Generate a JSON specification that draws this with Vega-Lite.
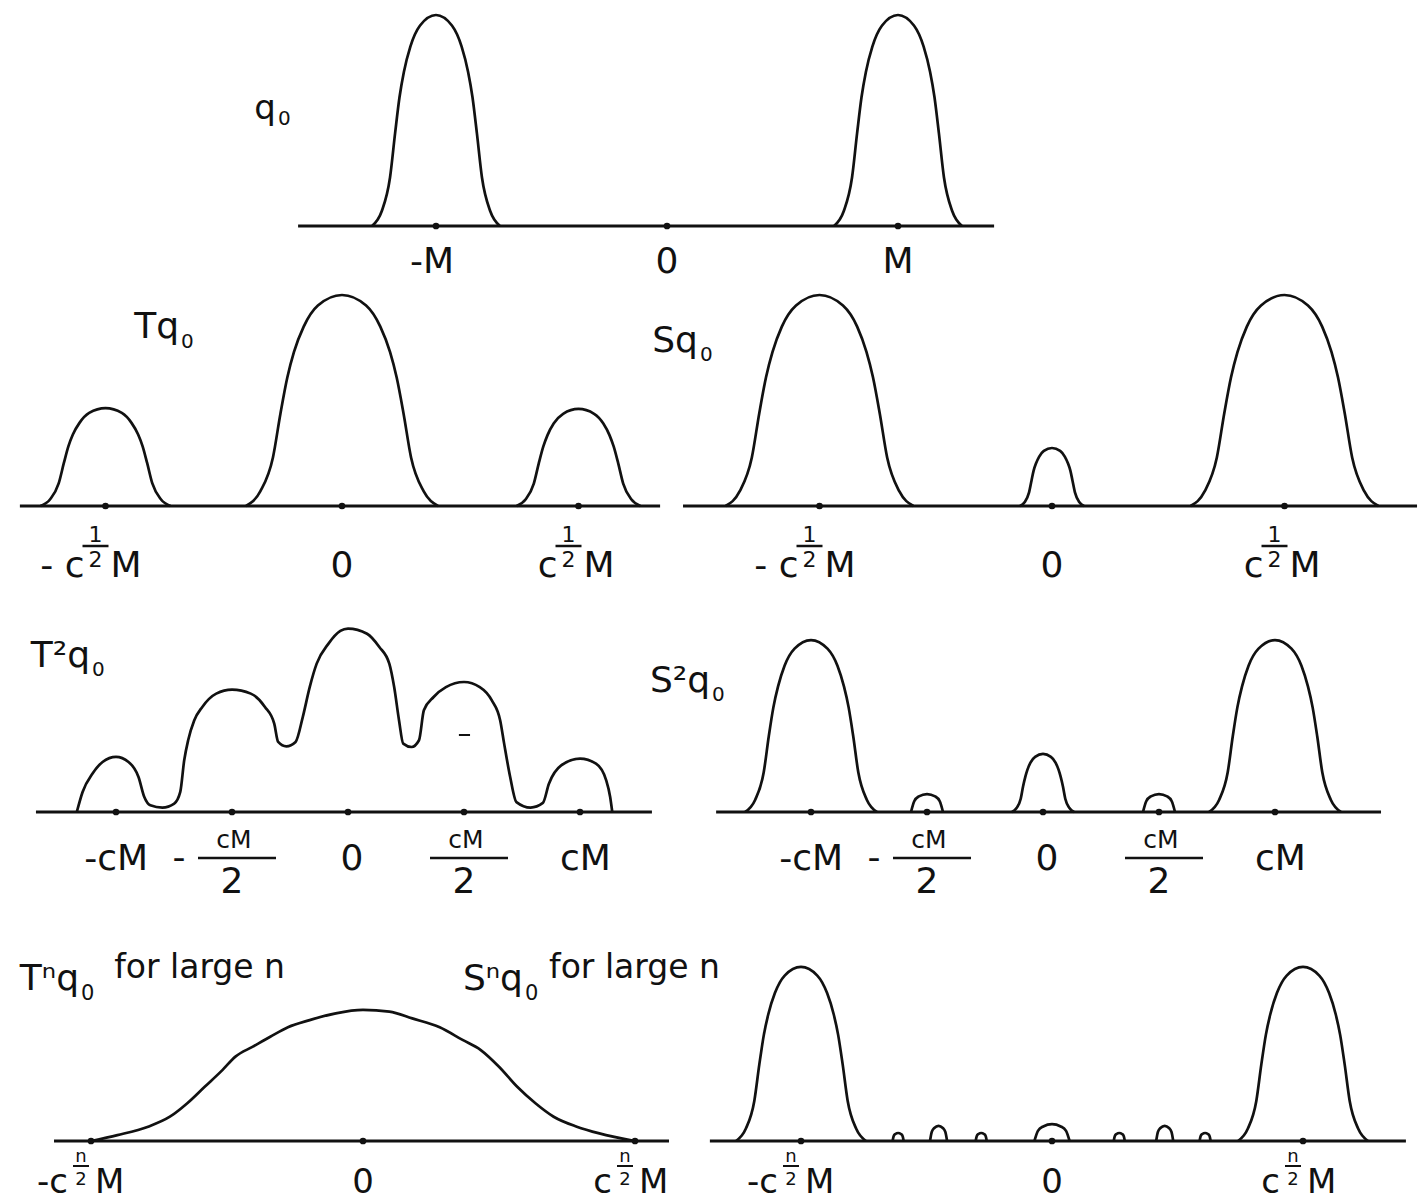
{
"$schema": "https://vega.github.io/schema/vega-lite/v6.json",
"padding": 0,
"background": "white",
"columns": 2,
"spacing": 0,
"bounds": "flush",
"config": {
 "view": {"stroke": null},
 "axis": {"disable": true},
 "concat": {"spacing": 0},
 "line": {"color": "#111", "strokeWidth": 2.7, "interpolate": "monotone"},
 "rule": {"color": "#111", "strokeWidth": 3},
 "point": {"color": "#111", "filled": true, "size": 45, "opacity": 1},
 "text": {"color": "#111", "font": "DejaVu Sans", "fontSize": 36, "baseline": "alphabetic"}
},
"datasets": {
 "base": [
  {"p":"q","x":-1.597,"x2":1.416},
  {"p":"T1","x":-1.362,"x2":1.345},
  {"p":"S1","x":-1.587,"x2":1.57},
  {"p":"T2","x":-1.345,"x2":1.31},
  {"p":"S2","x":-1.409,"x2":1.457},
  {"p":"Tn","x":-1.136,"x2":1.125},
  {"p":"Sn","x":-1.363,"x2":1.41}
 ],
 "ticks": [
  {"p":"q","x":-1},{"p":"q","x":0},{"p":"q","x":1},
  {"p":"T1","x":-1},{"p":"T1","x":0},{"p":"T1","x":1},
  {"p":"S1","x":-1},{"p":"S1","x":0},{"p":"S1","x":1},
  {"p":"T2","x":-1},{"p":"T2","x":-0.5},{"p":"T2","x":0},{"p":"T2","x":0.5},{"p":"T2","x":1},
  {"p":"S2","x":-1},{"p":"S2","x":-0.5},{"p":"S2","x":0},{"p":"S2","x":0.5},{"p":"S2","x":1},
  {"p":"Tn","x":-1},{"p":"Tn","x":0},{"p":"Tn","x":1},
  {"p":"Sn","x":-1},{"p":"Sn","x":0},{"p":"Sn","x":1}
 ],
 "labels": [
  {"p":"q","x":-1,"r":"negR","t":"-M"},{"p":"q","x":0,"r":"plain","t":"0"},{"p":"q","x":1,"r":"plain","t":"M"},
  {"p":"T1","x":-1,"r":"pre","t":"-  c"},{"p":"T1","x":-1,"r":"num","t":"1"},{"p":"T1","x":-1,"r":"den","t":"2"},{"p":"T1","x":-1,"r":"post","t":"M"},{"p":"T1","x":-1,"r":"bar","t":""},
  {"p":"T1","x":0,"r":"plain","t":"0"},
  {"p":"T1","x":1,"r":"pre","t":"c"},{"p":"T1","x":1,"r":"num","t":"1"},{"p":"T1","x":1,"r":"den","t":"2"},{"p":"T1","x":1,"r":"post","t":"M"},{"p":"T1","x":1,"r":"bar","t":""},
  {"p":"S1","x":-1,"r":"pre","t":"- c"},{"p":"S1","x":-1,"r":"num","t":"1"},{"p":"S1","x":-1,"r":"den","t":"2"},{"p":"S1","x":-1,"r":"post","t":"M"},{"p":"S1","x":-1,"r":"bar","t":""},
  {"p":"S1","x":0,"r":"plain","t":"0"},
  {"p":"S1","x":1,"r":"pre","t":"c"},{"p":"S1","x":1,"r":"num","t":"1"},{"p":"S1","x":1,"r":"den","t":"2"},{"p":"S1","x":1,"r":"post","t":"M"},{"p":"S1","x":1,"r":"bar","t":""},
  {"p":"T2","x":-1,"r":"negR","t":"-cM"},{"p":"T2","x":-0.5,"r":"fminus","t":"-"},{"p":"T2","x":-0.5,"r":"fnum","t":"cM"},{"p":"T2","x":-0.5,"r":"fden","t":"2"},{"p":"T2","x":-0.5,"r":"fbar","t":""},
  {"p":"T2","x":0,"r":"plain","t":"0"},
  {"p":"T2","x":0.5,"r":"fnum","t":"cM"},{"p":"T2","x":0.5,"r":"fden","t":"2"},{"p":"T2","x":0.5,"r":"fbar","t":""},{"p":"T2","x":1,"r":"posL","t":"cM"},
  {"p":"S2","x":-1,"r":"negR","t":"-cM"},{"p":"S2","x":-0.5,"r":"fminus","t":"-"},{"p":"S2","x":-0.5,"r":"fnum","t":"cM"},{"p":"S2","x":-0.5,"r":"fden","t":"2"},{"p":"S2","x":-0.5,"r":"fbar","t":""},
  {"p":"S2","x":0,"r":"plain","t":"0"},
  {"p":"S2","x":0.5,"r":"fnum","t":"cM"},{"p":"S2","x":0.5,"r":"fden","t":"2"},{"p":"S2","x":0.5,"r":"fbar","t":""},{"p":"S2","x":1,"r":"posL","t":"cM"},
  {"p":"Tn","x":-1,"r":"pre","t":"-c"},{"p":"Tn","x":-1,"r":"num","t":"n"},{"p":"Tn","x":-1,"r":"den","t":"2"},{"p":"Tn","x":-1,"r":"post","t":"M"},{"p":"Tn","x":-1,"r":"bar","t":""},
  {"p":"Tn","x":0,"r":"plain","t":"0"},
  {"p":"Tn","x":1,"r":"pre","t":"c"},{"p":"Tn","x":1,"r":"num","t":"n"},{"p":"Tn","x":1,"r":"den","t":"2"},{"p":"Tn","x":1,"r":"post","t":"M"},{"p":"Tn","x":1,"r":"bar","t":""},
  {"p":"Sn","x":-1,"r":"pre","t":"-c"},{"p":"Sn","x":-1,"r":"num","t":"n"},{"p":"Sn","x":-1,"r":"den","t":"2"},{"p":"Sn","x":-1,"r":"post","t":"M"},{"p":"Sn","x":-1,"r":"bar","t":""},
  {"p":"Sn","x":0,"r":"plain","t":"0"},
  {"p":"Sn","x":1,"r":"pre","t":"c"},{"p":"Sn","x":1,"r":"num","t":"n"},{"p":"Sn","x":1,"r":"den","t":"2"},{"p":"Sn","x":1,"r":"post","t":"M"},{"p":"Sn","x":1,"r":"bar","t":""}
 ],
 "curves": [
  {"p":"q","c":1,"x":-1.277,"y":0},{"p":"q","c":1,"x":-1.235,"y":0.07},{"p":"q","c":1,"x":-1.199,"y":0.23},{"p":"q","c":1,"x":-1.177,"y":0.44},{"p":"q","c":1,"x":-1.158,"y":0.61},{"p":"q","c":1,"x":-1.139,"y":0.73},{"p":"q","c":1,"x":-1.111,"y":0.85},{"p":"q","c":1,"x":-1.069,"y":0.95},{"p":"q","c":1,"x":-1,"y":1},{"p":"q","c":1,"x":-0.931,"y":0.95},{"p":"q","c":1,"x":-0.889,"y":0.85},{"p":"q","c":1,"x":-0.861,"y":0.73},{"p":"q","c":1,"x":-0.842,"y":0.61},{"p":"q","c":1,"x":-0.823,"y":0.44},{"p":"q","c":1,"x":-0.801,"y":0.23},{"p":"q","c":1,"x":-0.765,"y":0.07},{"p":"q","c":1,"x":-0.723,"y":0},
  {"p":"q","c":2,"x":0.723,"y":0},{"p":"q","c":2,"x":0.765,"y":0.07},{"p":"q","c":2,"x":0.801,"y":0.23},{"p":"q","c":2,"x":0.823,"y":0.44},{"p":"q","c":2,"x":0.842,"y":0.61},{"p":"q","c":2,"x":0.861,"y":0.73},{"p":"q","c":2,"x":0.889,"y":0.85},{"p":"q","c":2,"x":0.931,"y":0.95},{"p":"q","c":2,"x":1,"y":1},{"p":"q","c":2,"x":1.069,"y":0.95},{"p":"q","c":2,"x":1.111,"y":0.85},{"p":"q","c":2,"x":1.139,"y":0.73},{"p":"q","c":2,"x":1.158,"y":0.61},{"p":"q","c":2,"x":1.177,"y":0.44},{"p":"q","c":2,"x":1.199,"y":0.23},{"p":"q","c":2,"x":1.235,"y":0.07},{"p":"q","c":2,"x":1.277,"y":0},

  {"p":"T1","c":1,"x":-1.275,"y":0},{"p":"T1","c":1,"x":-1.234,"y":0.032},{"p":"T1","c":1,"x":-1.198,"y":0.107},{"p":"T1","c":1,"x":-1.176,"y":0.204},{"p":"T1","c":1,"x":-1.157,"y":0.283},{"p":"T1","c":1,"x":-1.138,"y":0.339},{"p":"T1","c":1,"x":-1.11,"y":0.394},{"p":"T1","c":1,"x":-1.069,"y":0.441},{"p":"T1","c":1,"x":-1,"y":0.464},{"p":"T1","c":1,"x":-0.931,"y":0.441},{"p":"T1","c":1,"x":-0.89,"y":0.394},{"p":"T1","c":1,"x":-0.862,"y":0.339},{"p":"T1","c":1,"x":-0.843,"y":0.283},{"p":"T1","c":1,"x":-0.824,"y":0.204},{"p":"T1","c":1,"x":-0.802,"y":0.107},{"p":"T1","c":1,"x":-0.766,"y":0.032},{"p":"T1","c":1,"x":-0.725,"y":0},
  {"p":"T1","c":2,"x":-0.406,"y":0},{"p":"T1","c":2,"x":-0.345,"y":0.07},{"p":"T1","c":2,"x":-0.292,"y":0.23},{"p":"T1","c":2,"x":-0.26,"y":0.44},{"p":"T1","c":2,"x":-0.231,"y":0.61},{"p":"T1","c":2,"x":-0.203,"y":0.73},{"p":"T1","c":2,"x":-0.162,"y":0.85},{"p":"T1","c":2,"x":-0.102,"y":0.95},{"p":"T1","c":2,"x":0,"y":1},{"p":"T1","c":2,"x":0.102,"y":0.95},{"p":"T1","c":2,"x":0.162,"y":0.85},{"p":"T1","c":2,"x":0.203,"y":0.73},{"p":"T1","c":2,"x":0.231,"y":0.61},{"p":"T1","c":2,"x":0.26,"y":0.44},{"p":"T1","c":2,"x":0.292,"y":0.23},{"p":"T1","c":2,"x":0.345,"y":0.07},{"p":"T1","c":2,"x":0.406,"y":0},
  {"p":"T1","c":3,"x":0.738,"y":0},{"p":"T1","c":3,"x":0.777,"y":0.032},{"p":"T1","c":3,"x":0.811,"y":0.106},{"p":"T1","c":3,"x":0.832,"y":0.202},{"p":"T1","c":3,"x":0.851,"y":0.281},{"p":"T1","c":3,"x":0.869,"y":0.336},{"p":"T1","c":3,"x":0.895,"y":0.391},{"p":"T1","c":3,"x":0.935,"y":0.437},{"p":"T1","c":3,"x":1,"y":0.46},{"p":"T1","c":3,"x":1.066,"y":0.437},{"p":"T1","c":3,"x":1.105,"y":0.391},{"p":"T1","c":3,"x":1.131,"y":0.336},{"p":"T1","c":3,"x":1.149,"y":0.281},{"p":"T1","c":3,"x":1.168,"y":0.202},{"p":"T1","c":3,"x":1.189,"y":0.106},{"p":"T1","c":3,"x":1.223,"y":0.032},{"p":"T1","c":3,"x":1.262,"y":0},

  {"p":"S1","c":1,"x":-1.404,"y":0},{"p":"S1","c":1,"x":-1.343,"y":0.07},{"p":"S1","c":1,"x":-1.291,"y":0.23},{"p":"S1","c":1,"x":-1.259,"y":0.44},{"p":"S1","c":1,"x":-1.23,"y":0.61},{"p":"S1","c":1,"x":-1.202,"y":0.73},{"p":"S1","c":1,"x":-1.162,"y":0.85},{"p":"S1","c":1,"x":-1.101,"y":0.95},{"p":"S1","c":1,"x":-1,"y":1},{"p":"S1","c":1,"x":-0.899,"y":0.95},{"p":"S1","c":1,"x":-0.838,"y":0.85},{"p":"S1","c":1,"x":-0.798,"y":0.73},{"p":"S1","c":1,"x":-0.77,"y":0.61},{"p":"S1","c":1,"x":-0.741,"y":0.44},{"p":"S1","c":1,"x":-0.709,"y":0.23},{"p":"S1","c":1,"x":-0.657,"y":0.07},{"p":"S1","c":1,"x":-0.596,"y":0},
  {"p":"S1","c":2,"x":-0.138,"y":0},{"p":"S1","c":2,"x":-0.117,"y":0.019},{"p":"S1","c":2,"x":-0.099,"y":0.063},{"p":"S1","c":2,"x":-0.088,"y":0.121},{"p":"S1","c":2,"x":-0.079,"y":0.168},{"p":"S1","c":2,"x":-0.069,"y":0.201},{"p":"S1","c":2,"x":-0.055,"y":0.234},{"p":"S1","c":2,"x":-0.035,"y":0.261},{"p":"S1","c":2,"x":0,"y":0.275},{"p":"S1","c":2,"x":0.035,"y":0.261},{"p":"S1","c":2,"x":0.055,"y":0.234},{"p":"S1","c":2,"x":0.069,"y":0.201},{"p":"S1","c":2,"x":0.079,"y":0.168},{"p":"S1","c":2,"x":0.088,"y":0.121},{"p":"S1","c":2,"x":0.099,"y":0.063},{"p":"S1","c":2,"x":0.117,"y":0.019},{"p":"S1","c":2,"x":0.138,"y":0},
  {"p":"S1","c":3,"x":0.596,"y":0},{"p":"S1","c":3,"x":0.657,"y":0.07},{"p":"S1","c":3,"x":0.709,"y":0.23},{"p":"S1","c":3,"x":0.741,"y":0.44},{"p":"S1","c":3,"x":0.77,"y":0.61},{"p":"S1","c":3,"x":0.798,"y":0.73},{"p":"S1","c":3,"x":0.838,"y":0.85},{"p":"S1","c":3,"x":0.899,"y":0.95},{"p":"S1","c":3,"x":1,"y":1},{"p":"S1","c":3,"x":1.101,"y":0.95},{"p":"S1","c":3,"x":1.162,"y":0.85},{"p":"S1","c":3,"x":1.202,"y":0.73},{"p":"S1","c":3,"x":1.23,"y":0.61},{"p":"S1","c":3,"x":1.259,"y":0.44},{"p":"S1","c":3,"x":1.291,"y":0.23},{"p":"S1","c":3,"x":1.343,"y":0.07},{"p":"S1","c":3,"x":1.404,"y":0},

  {"p":"T2","c":1,"x":-1.169,"y":0},{"p":"T2","c":1,"x":-1.144,"y":0.095},{"p":"T2","c":1,"x":-1.101,"y":0.182},{"p":"T2","c":1,"x":-1.058,"y":0.237},{"p":"T2","c":1,"x":-1,"y":0.261},{"p":"T2","c":1,"x":-0.946,"y":0.237},{"p":"T2","c":1,"x":-0.903,"y":0.166},{"p":"T2","c":1,"x":-0.878,"y":0.071},{"p":"T2","c":1,"x":-0.852,"y":0.032},{"p":"T2","c":1,"x":-0.8,"y":0.021},{"p":"T2","c":1,"x":-0.749,"y":0.04},{"p":"T2","c":1,"x":-0.723,"y":0.095},{"p":"T2","c":1,"x":-0.706,"y":0.245},{"p":"T2","c":1,"x":-0.689,"y":0.34},{"p":"T2","c":1,"x":-0.663,"y":0.434},{"p":"T2","c":1,"x":-0.628,"y":0.498},{"p":"T2","c":1,"x":-0.568,"y":0.561},{"p":"T2","c":1,"x":-0.5,"y":0.58},{"p":"T2","c":1,"x":-0.419,"y":0.561},{"p":"T2","c":1,"x":-0.358,"y":0.498},{"p":"T2","c":1,"x":-0.318,"y":0.419},{"p":"T2","c":1,"x":-0.301,"y":0.332},{"p":"T2","c":1,"x":-0.266,"y":0.311},{"p":"T2","c":1,"x":-0.226,"y":0.332},{"p":"T2","c":1,"x":-0.195,"y":0.45},{"p":"T2","c":1,"x":-0.165,"y":0.592},{"p":"T2","c":1,"x":-0.135,"y":0.703},{"p":"T2","c":1,"x":-0.084,"y":0.798},{"p":"T2","c":1,"x":-0.033,"y":0.858},{"p":"T2","c":1,"x":0,"y":0.869},{"p":"T2","c":1,"x":0.082,"y":0.845},{"p":"T2","c":1,"x":0.135,"y":0.782},{"p":"T2","c":1,"x":0.178,"y":0.703},{"p":"T2","c":1,"x":0.199,"y":0.592},{"p":"T2","c":1,"x":0.22,"y":0.434},{"p":"T2","c":1,"x":0.238,"y":0.324},{"p":"T2","c":1,"x":0.274,"y":0.308},{"p":"T2","c":1,"x":0.306,"y":0.34},{"p":"T2","c":1,"x":0.327,"y":0.482},{"p":"T2","c":1,"x":0.369,"y":0.545},{"p":"T2","c":1,"x":0.422,"y":0.592},{"p":"T2","c":1,"x":0.5,"y":0.616},{"p":"T2","c":1,"x":0.568,"y":0.592},{"p":"T2","c":1,"x":0.62,"y":0.529},{"p":"T2","c":1,"x":0.656,"y":0.434},{"p":"T2","c":1,"x":0.673,"y":0.324},{"p":"T2","c":1,"x":0.699,"y":0.166},{"p":"T2","c":1,"x":0.726,"y":0.047},{"p":"T2","c":1,"x":0.787,"y":0.021},{"p":"T2","c":1,"x":0.84,"y":0.043},{"p":"T2","c":1,"x":0.866,"y":0.134},{"p":"T2","c":1,"x":0.919,"y":0.221},{"p":"T2","c":1,"x":1,"y":0.253},{"p":"T2","c":1,"x":1.069,"y":0.229},{"p":"T2","c":1,"x":1.113,"y":0.15},{"p":"T2","c":1,"x":1.13,"y":0.071},{"p":"T2","c":1,"x":1.139,"y":0},

  {"p":"S2","c":1,"x":-1.284,"y":0},{"p":"S2","c":1,"x":-1.241,"y":0.057},{"p":"S2","c":1,"x":-1.204,"y":0.187},{"p":"S2","c":1,"x":-1.182,"y":0.359},{"p":"S2","c":1,"x":-1.162,"y":0.497},{"p":"S2","c":1,"x":-1.142,"y":0.595},{"p":"S2","c":1,"x":-1.114,"y":0.693},{"p":"S2","c":1,"x":-1.071,"y":0.774},{"p":"S2","c":1,"x":-1,"y":0.815},{"p":"S2","c":1,"x":-0.929,"y":0.774},{"p":"S2","c":1,"x":-0.886,"y":0.693},{"p":"S2","c":1,"x":-0.858,"y":0.595},{"p":"S2","c":1,"x":-0.838,"y":0.497},{"p":"S2","c":1,"x":-0.818,"y":0.359},{"p":"S2","c":1,"x":-0.796,"y":0.187},{"p":"S2","c":1,"x":-0.759,"y":0.057},{"p":"S2","c":1,"x":-0.716,"y":0},
  {"p":"S2","c":2,"x":-0.569,"y":0},{"p":"S2","c":2,"x":-0.555,"y":0.051},{"p":"S2","c":2,"x":-0.535,"y":0.074},{"p":"S2","c":2,"x":-0.5,"y":0.085},{"p":"S2","c":2,"x":-0.465,"y":0.074},{"p":"S2","c":2,"x":-0.445,"y":0.051},{"p":"S2","c":2,"x":-0.431,"y":0},
  {"p":"S2","c":3,"x":-0.134,"y":0},{"p":"S2","c":3,"x":-0.114,"y":0.019},{"p":"S2","c":3,"x":-0.096,"y":0.063},{"p":"S2","c":3,"x":-0.086,"y":0.121},{"p":"S2","c":3,"x":-0.076,"y":0.168},{"p":"S2","c":3,"x":-0.067,"y":0.201},{"p":"S2","c":3,"x":-0.054,"y":0.234},{"p":"S2","c":3,"x":-0.034,"y":0.261},{"p":"S2","c":3,"x":0,"y":0.275},{"p":"S2","c":3,"x":0.034,"y":0.261},{"p":"S2","c":3,"x":0.054,"y":0.234},{"p":"S2","c":3,"x":0.067,"y":0.201},{"p":"S2","c":3,"x":0.076,"y":0.168},{"p":"S2","c":3,"x":0.086,"y":0.121},{"p":"S2","c":3,"x":0.096,"y":0.063},{"p":"S2","c":3,"x":0.114,"y":0.019},{"p":"S2","c":3,"x":0.134,"y":0},
  {"p":"S2","c":4,"x":0.431,"y":0},{"p":"S2","c":4,"x":0.445,"y":0.051},{"p":"S2","c":4,"x":0.465,"y":0.074},{"p":"S2","c":4,"x":0.5,"y":0.085},{"p":"S2","c":4,"x":0.535,"y":0.074},{"p":"S2","c":4,"x":0.555,"y":0.051},{"p":"S2","c":4,"x":0.569,"y":0},
  {"p":"S2","c":5,"x":0.716,"y":0},{"p":"S2","c":5,"x":0.759,"y":0.057},{"p":"S2","c":5,"x":0.796,"y":0.187},{"p":"S2","c":5,"x":0.818,"y":0.359},{"p":"S2","c":5,"x":0.838,"y":0.497},{"p":"S2","c":5,"x":0.858,"y":0.595},{"p":"S2","c":5,"x":0.886,"y":0.693},{"p":"S2","c":5,"x":0.929,"y":0.774},{"p":"S2","c":5,"x":1,"y":0.815},{"p":"S2","c":5,"x":1.071,"y":0.774},{"p":"S2","c":5,"x":1.114,"y":0.693},{"p":"S2","c":5,"x":1.142,"y":0.595},{"p":"S2","c":5,"x":1.162,"y":0.497},{"p":"S2","c":5,"x":1.182,"y":0.359},{"p":"S2","c":5,"x":1.204,"y":0.187},{"p":"S2","c":5,"x":1.241,"y":0.057},{"p":"S2","c":5,"x":1.284,"y":0},

  {"p":"Tn","c":1,"x":-1,"y":0},{"p":"Tn","c":1,"x":-0.903,"y":0.028},{"p":"Tn","c":1,"x":-0.79,"y":0.068},{"p":"Tn","c":1,"x":-0.71,"y":0.115},{"p":"Tn","c":1,"x":-0.646,"y":0.179},{"p":"Tn","c":1,"x":-0.582,"y":0.257},{"p":"Tn","c":1,"x":-0.517,"y":0.336},{"p":"Tn","c":1,"x":-0.469,"y":0.4},{"p":"Tn","c":1,"x":-0.405,"y":0.447},{"p":"Tn","c":1,"x":-0.341,"y":0.494},{"p":"Tn","c":1,"x":-0.276,"y":0.539},{"p":"Tn","c":1,"x":-0.196,"y":0.573},{"p":"Tn","c":1,"x":-0.1,"y":0.605},{"p":"Tn","c":1,"x":0,"y":0.621},{"p":"Tn","c":1,"x":0.097,"y":0.613},{"p":"Tn","c":1,"x":0.181,"y":0.581},{"p":"Tn","c":1,"x":0.282,"y":0.539},{"p":"Tn","c":1,"x":0.366,"y":0.479},{"p":"Tn","c":1,"x":0.433,"y":0.431},{"p":"Tn","c":1,"x":0.5,"y":0.352},{"p":"Tn","c":1,"x":0.567,"y":0.257},{"p":"Tn","c":1,"x":0.634,"y":0.179},{"p":"Tn","c":1,"x":0.701,"y":0.115},{"p":"Tn","c":1,"x":0.786,"y":0.068},{"p":"Tn","c":1,"x":0.869,"y":0.036},{"p":"Tn","c":1,"x":1,"y":0},

  {"p":"Sn","c":1,"x":-1.259,"y":0},{"p":"Sn","c":1,"x":-1.22,"y":0.058},{"p":"Sn","c":1,"x":-1.186,"y":0.19},{"p":"Sn","c":1,"x":-1.166,"y":0.363},{"p":"Sn","c":1,"x":-1.148,"y":0.503},{"p":"Sn","c":1,"x":-1.13,"y":0.602},{"p":"Sn","c":1,"x":-1.104,"y":0.701},{"p":"Sn","c":1,"x":-1.065,"y":0.784},{"p":"Sn","c":1,"x":-1,"y":0.825},{"p":"Sn","c":1,"x":-0.935,"y":0.784},{"p":"Sn","c":1,"x":-0.896,"y":0.701},{"p":"Sn","c":1,"x":-0.87,"y":0.602},{"p":"Sn","c":1,"x":-0.852,"y":0.503},{"p":"Sn","c":1,"x":-0.834,"y":0.363},{"p":"Sn","c":1,"x":-0.814,"y":0.19},{"p":"Sn","c":1,"x":-0.78,"y":0.058},{"p":"Sn","c":1,"x":-0.741,"y":0},
  {"p":"Sn","c":2,"x":-0.635,"y":0},{"p":"Sn","c":2,"x":-0.631,"y":0.023},{"p":"Sn","c":2,"x":-0.624,"y":0.033},{"p":"Sn","c":2,"x":-0.613,"y":0.038},{"p":"Sn","c":2,"x":-0.602,"y":0.033},{"p":"Sn","c":2,"x":-0.595,"y":0.023},{"p":"Sn","c":2,"x":-0.591,"y":0},
  {"p":"Sn","c":3,"x":-0.486,"y":0},{"p":"Sn","c":3,"x":-0.479,"y":0.043},{"p":"Sn","c":3,"x":-0.469,"y":0.062},{"p":"Sn","c":3,"x":-0.452,"y":0.072},{"p":"Sn","c":3,"x":-0.435,"y":0.062},{"p":"Sn","c":3,"x":-0.425,"y":0.043},{"p":"Sn","c":3,"x":-0.418,"y":0},
  {"p":"Sn","c":4,"x":-0.304,"y":0},{"p":"Sn","c":4,"x":-0.3,"y":0.023},{"p":"Sn","c":4,"x":-0.293,"y":0.033},{"p":"Sn","c":4,"x":-0.282,"y":0.038},{"p":"Sn","c":4,"x":-0.271,"y":0.033},{"p":"Sn","c":4,"x":-0.264,"y":0.023},{"p":"Sn","c":4,"x":-0.26,"y":0},
  {"p":"Sn","c":5,"x":-0.07,"y":0},{"p":"Sn","c":5,"x":-0.056,"y":0.048},{"p":"Sn","c":5,"x":-0.035,"y":0.069},{"p":"Sn","c":5,"x":0,"y":0.08},{"p":"Sn","c":5,"x":0.035,"y":0.069},{"p":"Sn","c":5,"x":0.056,"y":0.048},{"p":"Sn","c":5,"x":0.07,"y":0},
  {"p":"Sn","c":6,"x":0.246,"y":0},{"p":"Sn","c":6,"x":0.25,"y":0.023},{"p":"Sn","c":6,"x":0.257,"y":0.033},{"p":"Sn","c":6,"x":0.268,"y":0.038},{"p":"Sn","c":6,"x":0.279,"y":0.033},{"p":"Sn","c":6,"x":0.286,"y":0.023},{"p":"Sn","c":6,"x":0.29,"y":0},
  {"p":"Sn","c":7,"x":0.415,"y":0},{"p":"Sn","c":7,"x":0.422,"y":0.043},{"p":"Sn","c":7,"x":0.432,"y":0.062},{"p":"Sn","c":7,"x":0.449,"y":0.072},{"p":"Sn","c":7,"x":0.466,"y":0.062},{"p":"Sn","c":7,"x":0.476,"y":0.043},{"p":"Sn","c":7,"x":0.483,"y":0},
  {"p":"Sn","c":8,"x":0.588,"y":0},{"p":"Sn","c":8,"x":0.592,"y":0.023},{"p":"Sn","c":8,"x":0.599,"y":0.033},{"p":"Sn","c":8,"x":0.61,"y":0.038},{"p":"Sn","c":8,"x":0.621,"y":0.033},{"p":"Sn","c":8,"x":0.628,"y":0.023},{"p":"Sn","c":8,"x":0.632,"y":0},
  {"p":"Sn","c":9,"x":0.741,"y":0},{"p":"Sn","c":9,"x":0.78,"y":0.058},{"p":"Sn","c":9,"x":0.814,"y":0.19},{"p":"Sn","c":9,"x":0.834,"y":0.363},{"p":"Sn","c":9,"x":0.852,"y":0.503},{"p":"Sn","c":9,"x":0.87,"y":0.602},{"p":"Sn","c":9,"x":0.896,"y":0.701},{"p":"Sn","c":9,"x":0.935,"y":0.784},{"p":"Sn","c":9,"x":1,"y":0.825},{"p":"Sn","c":9,"x":1.065,"y":0.784},{"p":"Sn","c":9,"x":1.104,"y":0.701},{"p":"Sn","c":9,"x":1.13,"y":0.602},{"p":"Sn","c":9,"x":1.148,"y":0.503},{"p":"Sn","c":9,"x":1.166,"y":0.363},{"p":"Sn","c":9,"x":1.186,"y":0.19},{"p":"Sn","c":9,"x":1.22,"y":0.058},{"p":"Sn","c":9,"x":1.259,"y":0}
 ]
},
"concat": [
 {
  "width": 670, "height": 285,
  "layer": [
   {"data":{"name":"base"},"transform":[{"filter":"datum.p=='q'"}],"mark":"rule","encoding":{"x":{"field":"x","type":"quantitative","scale":{"domain":[-2.8874,0.013],"nice":false}},"x2":{"field":"x2"},"y":{"datum":0,"type":"quantitative","scale":{"domain":[-0.2796,1.0711],"nice":false}}}},
   {"data":{"name":"curves"},"transform":[{"filter":"datum.p=='q'"}],"mark":"line","encoding":{"x":{"field":"x","type":"quantitative","scale":{"domain":[-2.8874,0.013],"nice":false}},"y":{"field":"y","type":"quantitative","scale":{"domain":[-0.2796,1.0711],"nice":false}},"detail":{"field":"c","type":"nominal"}}},
   {"data":{"name":"ticks"},"transform":[{"filter":"datum.p=='q'"}],"mark":"point","encoding":{"x":{"field":"x","type":"quantitative","scale":{"domain":[-2.8874,0.013],"nice":false}},"y":{"datum":0,"type":"quantitative","scale":{"domain":[-0.2796,1.0711],"nice":false}}}},
   {"data":{"name":"labels"},"transform":[{"filter":"datum.p=='q' && datum.r=='negR'"}],"mark":{"type":"text","align":"right","dx":18,"dy":47},"encoding":{"x":{"field":"x","type":"quantitative","scale":{"domain":[-2.8874,0.013],"nice":false}},"y":{"datum":0,"type":"quantitative","scale":{"domain":[-0.2796,1.0711],"nice":false}},"text":{"field":"t"}}},
   {"data":{"name":"labels"},"transform":[{"filter":"datum.p=='q' && datum.r=='plain'"}],"mark":{"type":"text","align":"center","dy":47},"encoding":{"x":{"field":"x","type":"quantitative","scale":{"domain":[-2.8874,0.013],"nice":false}},"y":{"datum":0,"type":"quantitative","scale":{"domain":[-0.2796,1.0711],"nice":false}},"text":{"field":"t"}}},
   {"data":{"values":[{}]},"mark":{"type":"text","align":"right","text":"q","fontSize":34},"encoding":{"x":{"datum":-1.693,"type":"quantitative","scale":{"domain":[-2.8874,0.013],"nice":false}},"y":{"datum":0.507,"type":"quantitative","scale":{"domain":[-0.2796,1.0711],"nice":false}}}},
   {"data":{"values":[{}]},"mark":{"type":"text","align":"left","text":"0","fontSize":20,"dx":2,"dy":6},"encoding":{"x":{"datum":-1.693,"type":"quantitative","scale":{"domain":[-2.8874,0.013],"nice":false}},"y":{"datum":0.507,"type":"quantitative","scale":{"domain":[-0.2796,1.0711],"nice":false}}}}
  ]
 },
 {
  "width": 757, "height": 285,
  "data": {"values": [{}]},
  "mark": {"type": "text", "text": ""}
 },
 {
  "width": 670, "height": 315,
  "layer": [
   {"data":{"name":"base"},"transform":[{"filter":"datum.p=='T1'"}],"mark":"rule","encoding":{"x":{"field":"x","type":"quantitative","scale":{"domain":[-1.4461,1.3869],"nice":false}},"x2":{"field":"x2"},"y":{"datum":0,"type":"quantitative","scale":{"domain":[-0.4455,1.0474],"nice":false}}}},
   {"data":{"name":"curves"},"transform":[{"filter":"datum.p=='T1'"}],"mark":"line","encoding":{"x":{"field":"x","type":"quantitative","scale":{"domain":[-1.4461,1.3869],"nice":false}},"y":{"field":"y","type":"quantitative","scale":{"domain":[-0.4455,1.0474],"nice":false}},"detail":{"field":"c","type":"nominal"}}},
   {"data":{"name":"ticks"},"transform":[{"filter":"datum.p=='T1'"}],"mark":"point","encoding":{"x":{"field":"x","type":"quantitative","scale":{"domain":[-1.4461,1.3869],"nice":false}},"y":{"datum":0,"type":"quantitative","scale":{"domain":[-0.4455,1.0474],"nice":false}}}},
   {"data":{"name":"labels"},"transform":[{"filter":"datum.p=='T1' && datum.r=='pre'"}],"mark":{"type":"text","align":"right","dx":-21,"dy":71},"encoding":{"x":{"field":"x","type":"quantitative","scale":{"domain":[-1.4461,1.3869],"nice":false}},"y":{"datum":0,"type":"quantitative","scale":{"domain":[-0.4455,1.0474],"nice":false}},"text":{"field":"t"}}},
   {"data":{"name":"labels"},"transform":[{"filter":"datum.p=='T1' && datum.r=='num'"}],"mark":{"type":"text","align":"center","dx":-10,"dy":36,"fontSize":22},"encoding":{"x":{"field":"x","type":"quantitative","scale":{"domain":[-1.4461,1.3869],"nice":false}},"y":{"datum":0,"type":"quantitative","scale":{"domain":[-0.4455,1.0474],"nice":false}},"text":{"field":"t"}}},
   {"data":{"name":"labels"},"transform":[{"filter":"datum.p=='T1' && datum.r=='den'"}],"mark":{"type":"text","align":"center","dx":-10,"dy":61,"fontSize":22},"encoding":{"x":{"field":"x","type":"quantitative","scale":{"domain":[-1.4461,1.3869],"nice":false}},"y":{"datum":0,"type":"quantitative","scale":{"domain":[-0.4455,1.0474],"nice":false}},"text":{"field":"t"}}},
   {"data":{"name":"labels"},"transform":[{"filter":"datum.p=='T1' && datum.r=='post'"}],"mark":{"type":"text","align":"left","dx":5,"dy":71},"encoding":{"x":{"field":"x","type":"quantitative","scale":{"domain":[-1.4461,1.3869],"nice":false}},"y":{"datum":0,"type":"quantitative","scale":{"domain":[-0.4455,1.0474],"nice":false}},"text":{"field":"t"}}},
   {"data":{"name":"labels"},"transform":[{"filter":"datum.p=='T1' && datum.r=='plain'"}],"mark":{"type":"text","align":"center","dy":71},"encoding":{"x":{"field":"x","type":"quantitative","scale":{"domain":[-1.4461,1.3869],"nice":false}},"y":{"datum":0,"type":"quantitative","scale":{"domain":[-0.4455,1.0474],"nice":false}},"text":{"field":"t"}}},
   {"data":{"name":"labels"},"transform":[{"filter":"datum.p=='T1' && datum.r=='bar'"}],"mark":{"type":"rule","xOffset":-23,"x2Offset":3,"yOffset":40,"strokeWidth":2.5},"encoding":{"x":{"field":"x","type":"quantitative","scale":{"domain":[-1.4461,1.3869],"nice":false}},"x2":{"field":"x"},"y":{"datum":0,"type":"quantitative","scale":{"domain":[-0.4455,1.0474],"nice":false}}}},
   {"data":{"values":[{}]},"mark":{"type":"text","align":"right","text":"Tq"},"encoding":{"x":{"datum":-0.689,"type":"quantitative","scale":{"domain":[-1.4461,1.3869],"nice":false}},"y":{"datum":0.796,"type":"quantitative","scale":{"domain":[-0.4455,1.0474],"nice":false}}}},
   {"data":{"values":[{}]},"mark":{"type":"text","align":"left","text":"0","fontSize":20,"dx":2,"dy":10},"encoding":{"x":{"datum":-0.689,"type":"quantitative","scale":{"domain":[-1.4461,1.3869],"nice":false}},"y":{"datum":0.796,"type":"quantitative","scale":{"domain":[-0.4455,1.0474],"nice":false}}}}
  ]
 },
 {
  "width": 757, "height": 315,
  "layer": [
   {"data":{"name":"base"},"transform":[{"filter":"datum.p=='S1'"}],"mark":"rule","encoding":{"x":{"field":"x","type":"quantitative","scale":{"domain":[-1.643,1.6129],"nice":false}},"x2":{"field":"x2"},"y":{"datum":0,"type":"quantitative","scale":{"domain":[-0.4455,1.0474],"nice":false}}}},
   {"data":{"name":"curves"},"transform":[{"filter":"datum.p=='S1'"}],"mark":"line","encoding":{"x":{"field":"x","type":"quantitative","scale":{"domain":[-1.643,1.6129],"nice":false}},"y":{"field":"y","type":"quantitative","scale":{"domain":[-0.4455,1.0474],"nice":false}},"detail":{"field":"c","type":"nominal"}}},
   {"data":{"name":"ticks"},"transform":[{"filter":"datum.p=='S1'"}],"mark":"point","encoding":{"x":{"field":"x","type":"quantitative","scale":{"domain":[-1.643,1.6129],"nice":false}},"y":{"datum":0,"type":"quantitative","scale":{"domain":[-0.4455,1.0474],"nice":false}}}},
   {"data":{"name":"labels"},"transform":[{"filter":"datum.p=='S1' && datum.r=='pre'"}],"mark":{"type":"text","align":"right","dx":-21,"dy":71},"encoding":{"x":{"field":"x","type":"quantitative","scale":{"domain":[-1.643,1.6129],"nice":false}},"y":{"datum":0,"type":"quantitative","scale":{"domain":[-0.4455,1.0474],"nice":false}},"text":{"field":"t"}}},
   {"data":{"name":"labels"},"transform":[{"filter":"datum.p=='S1' && datum.r=='num'"}],"mark":{"type":"text","align":"center","dx":-10,"dy":36,"fontSize":22},"encoding":{"x":{"field":"x","type":"quantitative","scale":{"domain":[-1.643,1.6129],"nice":false}},"y":{"datum":0,"type":"quantitative","scale":{"domain":[-0.4455,1.0474],"nice":false}},"text":{"field":"t"}}},
   {"data":{"name":"labels"},"transform":[{"filter":"datum.p=='S1' && datum.r=='den'"}],"mark":{"type":"text","align":"center","dx":-10,"dy":61,"fontSize":22},"encoding":{"x":{"field":"x","type":"quantitative","scale":{"domain":[-1.643,1.6129],"nice":false}},"y":{"datum":0,"type":"quantitative","scale":{"domain":[-0.4455,1.0474],"nice":false}},"text":{"field":"t"}}},
   {"data":{"name":"labels"},"transform":[{"filter":"datum.p=='S1' && datum.r=='post'"}],"mark":{"type":"text","align":"left","dx":5,"dy":71},"encoding":{"x":{"field":"x","type":"quantitative","scale":{"domain":[-1.643,1.6129],"nice":false}},"y":{"datum":0,"type":"quantitative","scale":{"domain":[-0.4455,1.0474],"nice":false}},"text":{"field":"t"}}},
   {"data":{"name":"labels"},"transform":[{"filter":"datum.p=='S1' && datum.r=='plain'"}],"mark":{"type":"text","align":"center","dy":71},"encoding":{"x":{"field":"x","type":"quantitative","scale":{"domain":[-1.643,1.6129],"nice":false}},"y":{"datum":0,"type":"quantitative","scale":{"domain":[-0.4455,1.0474],"nice":false}},"text":{"field":"t"}}},
   {"data":{"name":"labels"},"transform":[{"filter":"datum.p=='S1' && datum.r=='bar'"}],"mark":{"type":"rule","xOffset":-23,"x2Offset":3,"yOffset":40,"strokeWidth":2.5},"encoding":{"x":{"field":"x","type":"quantitative","scale":{"domain":[-1.643,1.6129],"nice":false}},"x2":{"field":"x"},"y":{"datum":0,"type":"quantitative","scale":{"domain":[-0.4455,1.0474],"nice":false}}}},
   {"data":{"values":[{}]},"mark":{"type":"text","align":"right","text":"Sq"},"encoding":{"x":{"datum":-1.523,"type":"quantitative","scale":{"domain":[-1.643,1.6129],"nice":false}},"y":{"datum":0.73,"type":"quantitative","scale":{"domain":[-0.4455,1.0474],"nice":false}}}},
   {"data":{"values":[{}]},"mark":{"type":"text","align":"left","text":"0","fontSize":20,"dx":2,"dy":9},"encoding":{"x":{"datum":-1.523,"type":"quantitative","scale":{"domain":[-1.643,1.6129],"nice":false}},"y":{"datum":0.73,"type":"quantitative","scale":{"domain":[-0.4455,1.0474],"nice":false}}}}
  ]
 },
 {
  "width": 670, "height": 310,
  "layer": [
   {"data":{"name":"base"},"transform":[{"filter":"datum.p=='T2'"}],"mark":"rule","encoding":{"x":{"field":"x","type":"quantitative","scale":{"domain":[-1.5,1.3879],"nice":false}},"x2":{"field":"x2"},"y":{"datum":0,"type":"quantitative","scale":{"domain":[-0.4645,1.0047],"nice":false}}}},
   {"data":{"name":"curves"},"transform":[{"filter":"datum.p=='T2'"}],"mark":"line","encoding":{"x":{"field":"x","type":"quantitative","scale":{"domain":[-1.5,1.3879],"nice":false}},"y":{"field":"y","type":"quantitative","scale":{"domain":[-0.4645,1.0047],"nice":false}},"detail":{"field":"c","type":"nominal"}}},
   {"data":{"name":"ticks"},"transform":[{"filter":"datum.p=='T2'"}],"mark":"point","encoding":{"x":{"field":"x","type":"quantitative","scale":{"domain":[-1.5,1.3879],"nice":false}},"y":{"datum":0,"type":"quantitative","scale":{"domain":[-0.4645,1.0047],"nice":false}}}},
   {"data":{"name":"labels"},"transform":[{"filter":"datum.p=='T2' && datum.r=='negR'"}],"mark":{"type":"text","align":"right","dx":32,"dy":58},"encoding":{"x":{"field":"x","type":"quantitative","scale":{"domain":[-1.5,1.3879],"nice":false}},"y":{"datum":0,"type":"quantitative","scale":{"domain":[-0.4645,1.0047],"nice":false}},"text":{"field":"t"}}},
   {"data":{"name":"labels"},"transform":[{"filter":"datum.p=='T2' && datum.r=='posL'"}],"mark":{"type":"text","align":"left","dx":-20,"dy":58},"encoding":{"x":{"field":"x","type":"quantitative","scale":{"domain":[-1.5,1.3879],"nice":false}},"y":{"datum":0,"type":"quantitative","scale":{"domain":[-0.4645,1.0047],"nice":false}},"text":{"field":"t"}}},
   {"data":{"name":"labels"},"transform":[{"filter":"datum.p=='T2' && datum.r=='plain'"}],"mark":{"type":"text","align":"center","dx":4,"dy":58},"encoding":{"x":{"field":"x","type":"quantitative","scale":{"domain":[-1.5,1.3879],"nice":false}},"y":{"datum":0,"type":"quantitative","scale":{"domain":[-0.4645,1.0047],"nice":false}},"text":{"field":"t"}}},
   {"data":{"name":"labels"},"transform":[{"filter":"datum.p=='T2' && datum.r=='fminus'"}],"mark":{"type":"text","align":"center","dx":-53,"dy":57},"encoding":{"x":{"field":"x","type":"quantitative","scale":{"domain":[-1.5,1.3879],"nice":false}},"y":{"datum":0,"type":"quantitative","scale":{"domain":[-0.4645,1.0047],"nice":false}},"text":{"field":"t"}}},
   {"data":{"name":"labels"},"transform":[{"filter":"datum.p=='T2' && datum.r=='fnum'"}],"mark":{"type":"text","align":"center","dx":2,"dy":36,"fontSize":25},"encoding":{"x":{"field":"x","type":"quantitative","scale":{"domain":[-1.5,1.3879],"nice":false}},"y":{"datum":0,"type":"quantitative","scale":{"domain":[-0.4645,1.0047],"nice":false}},"text":{"field":"t"}}},
   {"data":{"name":"labels"},"transform":[{"filter":"datum.p=='T2' && datum.r=='fden'"}],"mark":{"type":"text","align":"center","dx":0,"dy":81},"encoding":{"x":{"field":"x","type":"quantitative","scale":{"domain":[-1.5,1.3879],"nice":false}},"y":{"datum":0,"type":"quantitative","scale":{"domain":[-0.4645,1.0047],"nice":false}},"text":{"field":"t"}}},
   {"data":{"name":"labels"},"transform":[{"filter":"datum.p=='T2' && datum.r=='fbar'"}],"mark":{"type":"rule","xOffset":-34,"x2Offset":44,"yOffset":46,"strokeWidth":2.5},"encoding":{"x":{"field":"x","type":"quantitative","scale":{"domain":[-1.5,1.3879],"nice":false}},"x2":{"field":"x"},"y":{"datum":0,"type":"quantitative","scale":{"domain":[-0.4645,1.0047],"nice":false}}}},
   {"data":{"values":[{}]},"mark":{"type":"rule","strokeWidth":2},"encoding":{"x":{"datum":0.478,"type":"quantitative","scale":{"domain":[-1.5,1.3879],"nice":false}},"x2":{"datum":0.526},"y":{"datum":0.365,"type":"quantitative","scale":{"domain":[-0.4645,1.0047],"nice":false}}}},
   {"data":{"values":[{}]},"mark":{"type":"text","align":"right","text":"T²q"},"encoding":{"x":{"datum":-1.112,"type":"quantitative","scale":{"domain":[-1.5,1.3879],"nice":false}},"y":{"datum":0.687,"type":"quantitative","scale":{"domain":[-0.4645,1.0047],"nice":false}}}},
   {"data":{"values":[{}]},"mark":{"type":"text","align":"left","text":"0","fontSize":20,"dx":2,"dy":9},"encoding":{"x":{"datum":-1.112,"type":"quantitative","scale":{"domain":[-1.5,1.3879],"nice":false}},"y":{"datum":0.687,"type":"quantitative","scale":{"domain":[-0.4645,1.0047],"nice":false}}}}
  ]
 },
 {
  "width": 757, "height": 310,
  "layer": [
   {"data":{"name":"base"},"transform":[{"filter":"datum.p=='S2'"}],"mark":"rule","encoding":{"x":{"field":"x","type":"quantitative","scale":{"domain":[-1.6078,1.6552],"nice":false}},"x2":{"field":"x2"},"y":{"datum":0,"type":"quantitative","scale":{"domain":[-0.4645,1.0047],"nice":false}}}},
   {"data":{"name":"curves"},"transform":[{"filter":"datum.p=='S2'"}],"mark":"line","encoding":{"x":{"field":"x","type":"quantitative","scale":{"domain":[-1.6078,1.6552],"nice":false}},"y":{"field":"y","type":"quantitative","scale":{"domain":[-0.4645,1.0047],"nice":false}},"detail":{"field":"c","type":"nominal"}}},
   {"data":{"name":"ticks"},"transform":[{"filter":"datum.p=='S2'"}],"mark":"point","encoding":{"x":{"field":"x","type":"quantitative","scale":{"domain":[-1.6078,1.6552],"nice":false}},"y":{"datum":0,"type":"quantitative","scale":{"domain":[-0.4645,1.0047],"nice":false}}}},
   {"data":{"name":"labels"},"transform":[{"filter":"datum.p=='S2' && datum.r=='negR'"}],"mark":{"type":"text","align":"right","dx":32,"dy":58},"encoding":{"x":{"field":"x","type":"quantitative","scale":{"domain":[-1.6078,1.6552],"nice":false}},"y":{"datum":0,"type":"quantitative","scale":{"domain":[-0.4645,1.0047],"nice":false}},"text":{"field":"t"}}},
   {"data":{"name":"labels"},"transform":[{"filter":"datum.p=='S2' && datum.r=='posL'"}],"mark":{"type":"text","align":"left","dx":-20,"dy":58},"encoding":{"x":{"field":"x","type":"quantitative","scale":{"domain":[-1.6078,1.6552],"nice":false}},"y":{"datum":0,"type":"quantitative","scale":{"domain":[-0.4645,1.0047],"nice":false}},"text":{"field":"t"}}},
   {"data":{"name":"labels"},"transform":[{"filter":"datum.p=='S2' && datum.r=='plain'"}],"mark":{"type":"text","align":"center","dx":4,"dy":58},"encoding":{"x":{"field":"x","type":"quantitative","scale":{"domain":[-1.6078,1.6552],"nice":false}},"y":{"datum":0,"type":"quantitative","scale":{"domain":[-0.4645,1.0047],"nice":false}},"text":{"field":"t"}}},
   {"data":{"name":"labels"},"transform":[{"filter":"datum.p=='S2' && datum.r=='fminus'"}],"mark":{"type":"text","align":"center","dx":-53,"dy":57},"encoding":{"x":{"field":"x","type":"quantitative","scale":{"domain":[-1.6078,1.6552],"nice":false}},"y":{"datum":0,"type":"quantitative","scale":{"domain":[-0.4645,1.0047],"nice":false}},"text":{"field":"t"}}},
   {"data":{"name":"labels"},"transform":[{"filter":"datum.p=='S2' && datum.r=='fnum'"}],"mark":{"type":"text","align":"center","dx":2,"dy":36,"fontSize":25},"encoding":{"x":{"field":"x","type":"quantitative","scale":{"domain":[-1.6078,1.6552],"nice":false}},"y":{"datum":0,"type":"quantitative","scale":{"domain":[-0.4645,1.0047],"nice":false}},"text":{"field":"t"}}},
   {"data":{"name":"labels"},"transform":[{"filter":"datum.p=='S2' && datum.r=='fden'"}],"mark":{"type":"text","align":"center","dx":0,"dy":81},"encoding":{"x":{"field":"x","type":"quantitative","scale":{"domain":[-1.6078,1.6552],"nice":false}},"y":{"datum":0,"type":"quantitative","scale":{"domain":[-0.4645,1.0047],"nice":false}},"text":{"field":"t"}}},
   {"data":{"name":"labels"},"transform":[{"filter":"datum.p=='S2' && datum.r=='fbar'"}],"mark":{"type":"rule","xOffset":-34,"x2Offset":44,"yOffset":46,"strokeWidth":2.5},"encoding":{"x":{"field":"x","type":"quantitative","scale":{"domain":[-1.6078,1.6552],"nice":false}},"x2":{"field":"x"},"y":{"datum":0,"type":"quantitative","scale":{"domain":[-0.4645,1.0047],"nice":false}}}},
   {"data":{"values":[{}]},"mark":{"type":"text","align":"right","text":"S²q"},"encoding":{"x":{"datum":-1.435,"type":"quantitative","scale":{"domain":[-1.6078,1.6552],"nice":false}},"y":{"datum":0.569,"type":"quantitative","scale":{"domain":[-0.4645,1.0047],"nice":false}}}},
   {"data":{"values":[{}]},"mark":{"type":"text","align":"left","text":"0","fontSize":20,"dx":2,"dy":9},"encoding":{"x":{"datum":-1.435,"type":"quantitative","scale":{"domain":[-1.6078,1.6552],"nice":false}},"y":{"datum":0.569,"type":"quantitative","scale":{"domain":[-0.4645,1.0047],"nice":false}}}}
  ]
 },
 {
  "width": 670, "height": 289,
  "layer": [
   {"data":{"name":"base"},"transform":[{"filter":"datum.p=='Tn'"}],"mark":"rule","encoding":{"x":{"field":"x","type":"quantitative","scale":{"domain":[-1.3346,1.1287],"nice":false}},"x2":{"field":"x2"},"y":{"datum":0,"type":"quantitative","scale":{"domain":[-0.2749,1.0948],"nice":false}}}},
   {"data":{"name":"curves"},"transform":[{"filter":"datum.p=='Tn'"}],"mark":"line","encoding":{"x":{"field":"x","type":"quantitative","scale":{"domain":[-1.3346,1.1287],"nice":false}},"y":{"field":"y","type":"quantitative","scale":{"domain":[-0.2749,1.0948],"nice":false}},"detail":{"field":"c","type":"nominal"}}},
   {"data":{"name":"ticks"},"transform":[{"filter":"datum.p=='Tn'"}],"mark":"point","encoding":{"x":{"field":"x","type":"quantitative","scale":{"domain":[-1.3346,1.1287],"nice":false}},"y":{"datum":0,"type":"quantitative","scale":{"domain":[-0.2749,1.0948],"nice":false}}}},
   {"data":{"name":"labels"},"transform":[{"filter":"datum.p=='Tn' && datum.r=='pre'"}],"mark":{"type":"text","align":"right","dx":-23,"dy":52,"fontSize":34},"encoding":{"x":{"field":"x","type":"quantitative","scale":{"domain":[-1.3346,1.1287],"nice":false}},"y":{"datum":0,"type":"quantitative","scale":{"domain":[-0.2749,1.0948],"nice":false}},"text":{"field":"t"}}},
   {"data":{"name":"labels"},"transform":[{"filter":"datum.p=='Tn' && datum.r=='num'"}],"mark":{"type":"text","align":"center","dx":-10,"dy":21,"fontSize":18},"encoding":{"x":{"field":"x","type":"quantitative","scale":{"domain":[-1.3346,1.1287],"nice":false}},"y":{"datum":0,"type":"quantitative","scale":{"domain":[-0.2749,1.0948],"nice":false}},"text":{"field":"t"}}},
   {"data":{"name":"labels"},"transform":[{"filter":"datum.p=='Tn' && datum.r=='den'"}],"mark":{"type":"text","align":"center","dx":-10,"dy":44,"fontSize":18},"encoding":{"x":{"field":"x","type":"quantitative","scale":{"domain":[-1.3346,1.1287],"nice":false}},"y":{"datum":0,"type":"quantitative","scale":{"domain":[-0.2749,1.0948],"nice":false}},"text":{"field":"t"}}},
   {"data":{"name":"labels"},"transform":[{"filter":"datum.p=='Tn' && datum.r=='post'"}],"mark":{"type":"text","align":"left","dx":4,"dy":52,"fontSize":34},"encoding":{"x":{"field":"x","type":"quantitative","scale":{"domain":[-1.3346,1.1287],"nice":false}},"y":{"datum":0,"type":"quantitative","scale":{"domain":[-0.2749,1.0948],"nice":false}},"text":{"field":"t"}}},
   {"data":{"name":"labels"},"transform":[{"filter":"datum.p=='Tn' && datum.r=='plain'"}],"mark":{"type":"text","align":"center","dy":52,"fontSize":34},"encoding":{"x":{"field":"x","type":"quantitative","scale":{"domain":[-1.3346,1.1287],"nice":false}},"y":{"datum":0,"type":"quantitative","scale":{"domain":[-0.2749,1.0948],"nice":false}},"text":{"field":"t"}}},
   {"data":{"name":"labels"},"transform":[{"filter":"datum.p=='Tn' && datum.r=='bar'"}],"mark":{"type":"rule","xOffset":-18,"x2Offset":-2,"yOffset":25,"strokeWidth":2},"encoding":{"x":{"field":"x","type":"quantitative","scale":{"domain":[-1.3346,1.1287],"nice":false}},"x2":{"field":"x"},"y":{"datum":0,"type":"quantitative","scale":{"domain":[-0.2749,1.0948],"nice":false}}}},
   {"data":{"values":[{}]},"mark":{"type":"text","align":"right","text":"Tⁿq"},"encoding":{"x":{"datum":-1.044,"type":"quantitative","scale":{"domain":[-1.3346,1.1287],"nice":false}},"y":{"datum":0.716,"type":"quantitative","scale":{"domain":[-0.2749,1.0948],"nice":false}}}},
   {"data":{"values":[{}]},"mark":{"type":"text","align":"left","text":"0","fontSize":21,"dx":2,"dy":10},"encoding":{"x":{"datum":-1.044,"type":"quantitative","scale":{"domain":[-1.3346,1.1287],"nice":false}},"y":{"datum":0.716,"type":"quantitative","scale":{"domain":[-0.2749,1.0948],"nice":false}}}},
   {"data":{"values":[{}]},"mark":{"type":"text","align":"left","text":"for large n","fontSize":33},"encoding":{"x":{"datum":-0.915,"type":"quantitative","scale":{"domain":[-1.3346,1.1287],"nice":false}},"y":{"datum":0.773,"type":"quantitative","scale":{"domain":[-0.2749,1.0948],"nice":false}}}},
   {"data":{"values":[{}]},"mark":{"type":"text","align":"right","text":"Sⁿq"},"encoding":{"x":{"datum":0.588,"type":"quantitative","scale":{"domain":[-1.3346,1.1287],"nice":false}},"y":{"datum":0.716,"type":"quantitative","scale":{"domain":[-0.2749,1.0948],"nice":false}}}},
   {"data":{"values":[{}]},"mark":{"type":"text","align":"left","text":"0","fontSize":21,"dx":2,"dy":10},"encoding":{"x":{"datum":0.588,"type":"quantitative","scale":{"domain":[-1.3346,1.1287],"nice":false}},"y":{"datum":0.716,"type":"quantitative","scale":{"domain":[-0.2749,1.0948],"nice":false}}}},
   {"data":{"values":[{}]},"mark":{"type":"text","align":"left","text":"for large n","fontSize":33},"encoding":{"x":{"datum":0.684,"type":"quantitative","scale":{"domain":[-1.3346,1.1287],"nice":false}},"y":{"datum":0.773,"type":"quantitative","scale":{"domain":[-0.2749,1.0948],"nice":false}}}}
  ]
 },
 {
  "width": 757, "height": 289,
  "layer": [
   {"data":{"name":"base"},"transform":[{"filter":"datum.p=='Sn'"}],"mark":"rule","encoding":{"x":{"field":"x","type":"quantitative","scale":{"domain":[-1.5219,1.494],"nice":false}},"x2":{"field":"x2"},"y":{"datum":0,"type":"quantitative","scale":{"domain":[-0.2749,1.0948],"nice":false}}}},
   {"data":{"name":"curves"},"transform":[{"filter":"datum.p=='Sn'"}],"mark":"line","encoding":{"x":{"field":"x","type":"quantitative","scale":{"domain":[-1.5219,1.494],"nice":false}},"y":{"field":"y","type":"quantitative","scale":{"domain":[-0.2749,1.0948],"nice":false}},"detail":{"field":"c","type":"nominal"}}},
   {"data":{"name":"ticks"},"transform":[{"filter":"datum.p=='Sn'"}],"mark":"point","encoding":{"x":{"field":"x","type":"quantitative","scale":{"domain":[-1.5219,1.494],"nice":false}},"y":{"datum":0,"type":"quantitative","scale":{"domain":[-0.2749,1.0948],"nice":false}}}},
   {"data":{"name":"labels"},"transform":[{"filter":"datum.p=='Sn' && datum.r=='pre'"}],"mark":{"type":"text","align":"right","dx":-23,"dy":52,"fontSize":34},"encoding":{"x":{"field":"x","type":"quantitative","scale":{"domain":[-1.5219,1.494],"nice":false}},"y":{"datum":0,"type":"quantitative","scale":{"domain":[-0.2749,1.0948],"nice":false}},"text":{"field":"t"}}},
   {"data":{"name":"labels"},"transform":[{"filter":"datum.p=='Sn' && datum.r=='num'"}],"mark":{"type":"text","align":"center","dx":-10,"dy":21,"fontSize":18},"encoding":{"x":{"field":"x","type":"quantitative","scale":{"domain":[-1.5219,1.494],"nice":false}},"y":{"datum":0,"type":"quantitative","scale":{"domain":[-0.2749,1.0948],"nice":false}},"text":{"field":"t"}}},
   {"data":{"name":"labels"},"transform":[{"filter":"datum.p=='Sn' && datum.r=='den'"}],"mark":{"type":"text","align":"center","dx":-10,"dy":44,"fontSize":18},"encoding":{"x":{"field":"x","type":"quantitative","scale":{"domain":[-1.5219,1.494],"nice":false}},"y":{"datum":0,"type":"quantitative","scale":{"domain":[-0.2749,1.0948],"nice":false}},"text":{"field":"t"}}},
   {"data":{"name":"labels"},"transform":[{"filter":"datum.p=='Sn' && datum.r=='post'"}],"mark":{"type":"text","align":"left","dx":4,"dy":52,"fontSize":34},"encoding":{"x":{"field":"x","type":"quantitative","scale":{"domain":[-1.5219,1.494],"nice":false}},"y":{"datum":0,"type":"quantitative","scale":{"domain":[-0.2749,1.0948],"nice":false}},"text":{"field":"t"}}},
   {"data":{"name":"labels"},"transform":[{"filter":"datum.p=='Sn' && datum.r=='plain'"}],"mark":{"type":"text","align":"center","dy":52,"fontSize":34},"encoding":{"x":{"field":"x","type":"quantitative","scale":{"domain":[-1.5219,1.494],"nice":false}},"y":{"datum":0,"type":"quantitative","scale":{"domain":[-0.2749,1.0948],"nice":false}},"text":{"field":"t"}}},
   {"data":{"name":"labels"},"transform":[{"filter":"datum.p=='Sn' && datum.r=='bar'"}],"mark":{"type":"rule","xOffset":-18,"x2Offset":-2,"yOffset":25,"strokeWidth":2},"encoding":{"x":{"field":"x","type":"quantitative","scale":{"domain":[-1.5219,1.494],"nice":false}},"x2":{"field":"x"},"y":{"datum":0,"type":"quantitative","scale":{"domain":[-0.2749,1.0948],"nice":false}}}}
  ]
 }
]
}
